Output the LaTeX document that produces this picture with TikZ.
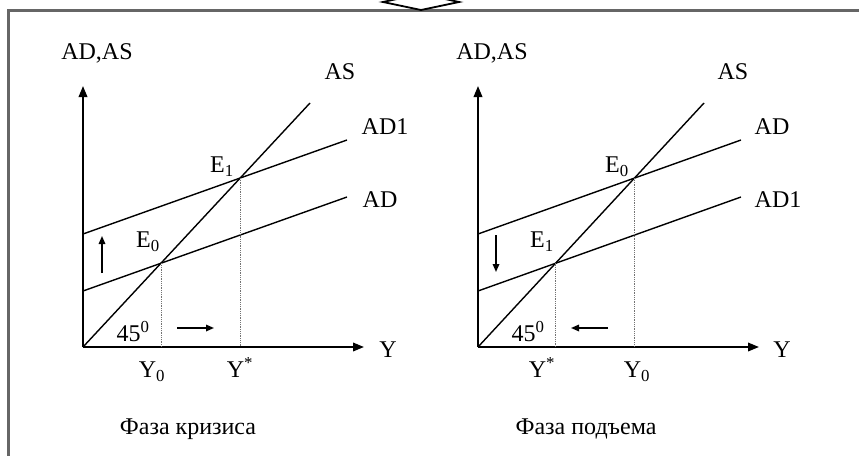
\documentclass[tikz,border=0pt]{standalone}
\usepackage{fontspec}
\setmainfont{Liberation Serif}
\usetikzlibrary{arrows.meta}
\begin{document}
\begin{tikzpicture}[x=1pt,y=-1pt,
  axis/.style={line width=2pt,-{Triangle[length=11pt,width=8.5pt]}},
  curve/.style={line width=1.4pt},
  guide/.style={densely dotted,line width=0.8pt,black!55},
  shiftarrow/.style={line width=1.6pt,-{Triangle[length=8pt,width=6.5pt]}},
  lbl/.style={inner sep=0pt,text height=15.5pt,text depth=0pt,font=\fontsize{24}{28}\selectfont},
  frame/.style={line width=3pt,draw=black!60}]
\useasboundingbox (0,0) rectangle (859,455);
% frame and top arrow
\coordinate (fb) at (8,456);
\coordinate (fc) at (8,10);
\coordinate (fr) at (860,10);
\draw[frame] (fb) -- (fc) -- (fr);
\coordinate (ta1) at (397,-1);
\coordinate (ta2) at (383,2);
\coordinate (ta3) at (421,10);
\coordinate (ta4) at (459,2);
\coordinate (ta5) at (445,-1);
\draw[line width=1.8pt,line join=miter] (ta1) -- (ta2) -- (ta3) -- (ta4) -- (ta5);

% ===== left graph =====
\coordinate (O1) at (83,347);
\coordinate (Yt1) at (83,86);
\coordinate (Xt1) at (364,347);
\coordinate (ASe1) at (310,103);
\coordinate (ADas1) at (83,234);
\coordinate (ADae1) at (347,140);
\coordinate (ADbs1) at (83,291);
\coordinate (ADbe1) at (347,197);
\draw[axis] (O1) -- (Yt1);
\draw[axis] (O1) -- (Xt1);
\draw[curve] (O1) -- (ASe1);
\draw[curve] (ADas1) -- (ADae1);
\draw[curve] (ADbs1) -- (ADbe1);
\coordinate (E1L) at (intersection of O1--ASe1 and ADas1--ADae1);
\coordinate (E0L) at (intersection of O1--ASe1 and ADbs1--ADbe1);
\draw[guide] (E1L) -- (E1L |- O1);
\draw[guide] (E0L) -- (E0L |- O1);
\coordinate (ua1) at (102,273);
\coordinate (ua2) at (102,236);
\draw[shiftarrow] (ua1) -- (ua2);
\coordinate (ra1) at (177,328);
\coordinate (ra2) at (214,328);
\draw[shiftarrow] (ra1) -- (ra2);
\node[lbl] (yl1) at (97,52) {AD,AS};
\node[lbl] (asl1) at (340,72) {AS};
\node[lbl] (ad1l1) at (385,127) {AD1};
\node[lbl] (adl1) at (380,200) {AD};
\node[lbl] (e1l1) at (222,165) {E\textsubscript{1}};
\node[lbl] (e0l1) at (148,240) {E\textsubscript{0}};
\node[lbl] (angl1) at (133,334) {45\textsuperscript{0}};
\node[lbl] (xl1) at (388,350) {Y};
\node[lbl] (y0l1) at (152,370) {Y\textsubscript{0}};
\node[lbl] (ysl1) at (240,370) {Y\textsuperscript{*}};
\node[lbl] (ph1) at (188,427) {Фаза кризиса};

% ===== right graph =====
\coordinate (O2) at (478,347);
\coordinate (Yt2) at (478,86);
\coordinate (Xt2) at (759,347);
\coordinate (ASe2) at (704,103);
\coordinate (ADas2) at (478,234);
\coordinate (ADae2) at (741,140);
\coordinate (ADbs2) at (478,291);
\coordinate (ADbe2) at (741,197);
\draw[axis] (O2) -- (Yt2);
\draw[axis] (O2) -- (Xt2);
\draw[curve] (O2) -- (ASe2);
\draw[curve] (ADas2) -- (ADae2);
\draw[curve] (ADbs2) -- (ADbe2);
\coordinate (E0R) at (intersection of O2--ASe2 and ADas2--ADae2);
\coordinate (E1R) at (intersection of O2--ASe2 and ADbs2--ADbe2);
\draw[guide] (E0R) -- (E0R |- O2);
\draw[guide] (E1R) -- (E1R |- O2);
\coordinate (da1) at (496,235);
\coordinate (da2) at (496,272);
\draw[shiftarrow] (da1) -- (da2);
\coordinate (la1) at (608,328);
\coordinate (la2) at (571,328);
\draw[shiftarrow] (la1) -- (la2);
\node[lbl] (yl2) at (492,52) {AD,AS};
\node[lbl] (asl2) at (733,72) {AS};
\node[lbl] (adl2) at (772,127) {AD};
\node[lbl] (ad1l2) at (778,200) {AD1};
\node[lbl] (e0l2) at (617,165) {E\textsubscript{0}};
\node[lbl] (e1l2) at (542,240) {E\textsubscript{1}};
\node[lbl] (angl2) at (528,334) {45\textsuperscript{0}};
\node[lbl] (xl2) at (782,350) {Y};
\node[lbl] (ysl2) at (542,370) {Y\textsuperscript{*}};
\node[lbl] (y0l2) at (637,370) {Y\textsubscript{0}};
\node[lbl] (ph2) at (586,427) {Фаза подъема};
\end{tikzpicture}
\end{document}
